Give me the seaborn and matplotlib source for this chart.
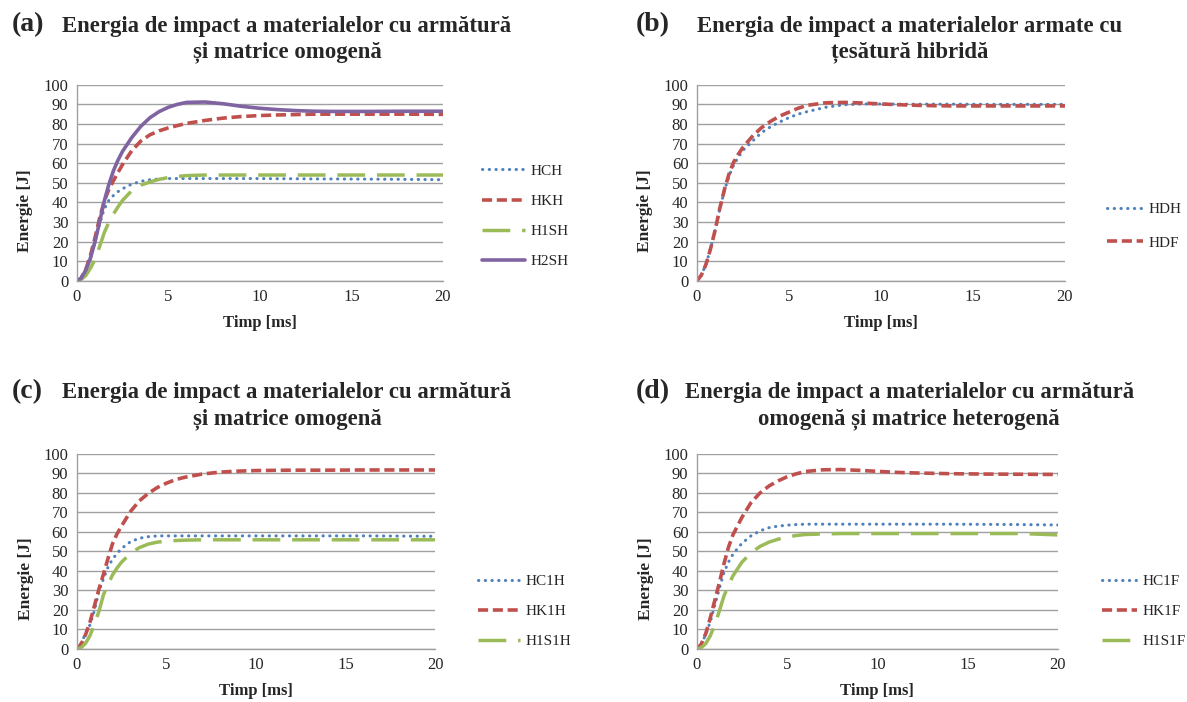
import numpy as np
import pandas as pd
import seaborn as sns
import matplotlib
matplotlib.use("Agg")
import matplotlib.pyplot as plt

# time axis [ms], shared by all series
t_ms = [0, 0.25, 0.5, 0.75, 1, 1.25, 1.5, 1.75, 2, 2.25, 2.5, 3, 3.5, 4, 4.5,
        5, 5.5, 6, 7, 8, 9, 10, 11, 12, 13, 14, 16, 18, 20]

# (a)
HCH = [0, 2, 6, 12, 20, 29, 36.5, 41, 43.5, 45.5, 47, 49.3, 50.8, 51.6, 52,
       52.2, 52.2, 52.2, 52.2, 52.2, 52.2, 52.2, 52.1, 52.1, 52, 52, 51.9, 51.8, 51.6]
HKH = [0, 1.5, 6, 13, 22, 32, 40.5, 46.5, 51, 55.2, 59.3, 66.3, 71.3, 74.5, 76.5,
       78, 79.2, 80.3, 81.8, 83, 83.8, 84.3, 84.6, 84.8, 85, 85, 85, 85, 84.9]
H1SH = [0, 0.8, 2.8, 6.5, 11, 17.5, 24.5, 29.8, 34, 37.7, 41, 46, 48.8, 50.5, 51.8,
        52.7, 53.3, 53.7, 54, 54, 54, 54, 54, 54, 54, 54, 54, 54, 54]
H2SH = [0, 1.5, 5.5, 11.5, 20, 30, 40.5, 49, 56, 61.5, 66, 73, 78.8, 83.2, 86.3,
        88.5, 90, 91, 91.2, 90.3, 89, 88, 87.3, 86.8, 86.5, 86.4, 86.4, 86.5, 86.5]

# (b)
HDH = [0, 3, 8.5, 16.5, 26, 36.5, 46, 53.5, 59, 63, 66.5, 71, 75.5, 78.5, 81,
       83.2, 85, 86.3, 88.5, 89.8, 90.2, 90.2, 90.1, 90.1, 90.1, 90.1, 90, 90, 90]
HDF = [0, 3, 8.5, 16.5, 26, 37, 46.5, 54.5, 60.5, 64.5, 68, 73.5, 78, 81.3, 84,
       86, 88, 89.5, 90.8, 91, 90.7, 90.2, 89.8, 89.5, 89.3, 89.2, 89.2, 89.2, 89.2]

# (c)
HC1H = [0, 3, 8, 12.5, 20, 30, 36, 42, 46, 49, 51.5, 55, 56.8, 57.6, 58,
        58, 58, 58, 58, 58, 58, 58, 58, 58, 58, 58, 58, 57.9, 57.8]
HK1H = [0, 2.5, 7.5, 14, 22.5, 31, 38.5, 46.5, 54, 59, 63, 70.5, 76, 79.8, 82.8,
        85, 86.8, 88, 89.7, 90.7, 91.2, 91.5, 91.6, 91.7, 91.7, 91.7, 91.8, 91.8, 91.8]
H1S1H = [0, 0.7, 3, 7, 13, 19.5, 28, 33, 38, 41.5, 44.5, 49, 52, 53.8, 54.8,
         55.3, 55.6, 55.8, 56, 56, 56, 56, 56, 56, 56, 56, 56, 56, 56]

# (d)
HC1F = [0, 2.5, 7.5, 14, 22.5, 31, 39, 44.5, 48.5, 51.5, 54.2, 58, 60.6, 62.2, 63,
        63.5, 63.8, 64, 64, 64, 64, 64, 64, 64, 64, 64, 63.9, 63.8, 63.6]
HK1F = [0, 2.5, 8, 16, 25, 34, 43.5, 52, 58.5, 63, 67.5, 75, 80, 83.6, 86.2,
        88.3, 89.8, 91, 91.9, 92, 91.6, 91.1, 90.6, 90.3, 90.1, 89.9, 89.7, 89.6, 89.5]
H1S1F = [0, 0.7, 2.8, 6.8, 12.5, 19.5, 27, 32.5, 37.5, 41, 44.5, 49.3, 52.6, 54.8, 56.3,
         57.4, 58.2, 58.7, 59, 59.2, 59.2, 59.2, 59.2, 59.2, 59.2, 59.2, 59.2, 59.2, 58.5]

BLUE, RED, GREEN, PURPLE = "#4F81BD", "#C0504D", "#9BBB59", "#8064A2"
STYLES = {
    "dot": dict(color=BLUE, lw=2.2, linestyle=(0, (0.1, 2.1)), dash_capstyle="round"),
    "dash": dict(color=RED, lw=2.6, linestyle=(0, (2.8, 1.3))),
    "long": dict(color=GREEN, lw=2.5, linestyle=(0, (8, 3.4))),
    "solid": dict(color=PURPLE, lw=2.6, linestyle="-"),
}

panels = [
    dict(letter="(a)", title="Energia de impact a materialelor cu armătură\nși matrice omogenă",
         rect=[0.0646, 0.5997, 0.3086, 0.2796], tx=0.2418, ty=0.944, lx=0.0232, ly=0.9644,
         series=[("HCH", HCH, "dot"), ("HKH", HKH, "dash"), ("H1SH", H1SH, "long"), ("H2SH", H2SH, "solid")],
         leg=(0.400, 0.692), ls=1.08, hl=2.8),
    dict(letter="(b)", title="Energia de impact a materialelor armate cu\nțesătură hibridă",
         rect=[0.587, 0.5997, 0.3102, 0.2796], tx=0.766, ty=0.944, lx=0.5501, ly=0.9644,
         series=[("HDH", HDH, "dot"), ("HDF", HDF, "dash")],
         leg=(0.926, 0.678), ls=1.3, hl=2.4),
    dict(letter="(c)", title="Energia de impact a materialelor cu armătură\nși matrice omogenă",
         rect=[0.0646, 0.0755, 0.3019, 0.2778], tx=0.2418, ty=0.4214, lx=0.0232, ly=0.4416,
         series=[("HC1H", HC1H, "dot"), ("HK1H", HK1H, "dash"), ("H1S1H", H1S1H, "long")],
         leg=(0.396, 0.129), ls=1.08, hl=2.8),
    dict(letter="(d)", title="Energia de impact a materialelor cu armătură\nomogenă și matrice heterogenă",
         rect=[0.587, 0.0755, 0.3043, 0.2778], tx=0.766, ty=0.4214, lx=0.5501, ly=0.4416,
         series=[("HC1F", HC1F, "dot"), ("HK1F", HK1F, "dash"), ("H1S1F", H1S1F, "long")],
         leg=(0.922, 0.129), ls=1.08, hl=2.3),
]

sns.set_style("white")
plt.rcParams["font.family"] = ["Liberation Serif", "DejaVu Serif"]

fig = plt.figure(figsize=(11.87, 7.02), dpi=100)

for p in panels:
    ax = fig.add_axes(p["rect"])
    for name, vals, st in p["series"]:
        df = pd.DataFrame({"t": t_ms, "E": vals})
        sns.lineplot(data=df, x="t", y="E", ax=ax, label=name, **STYLES[st])
    ax.set_xlim(0, 20)
    ax.set_ylim(0, 100)
    ax.set_xticks([0, 5, 10, 15, 20])
    ax.set_yticks(np.arange(0, 101, 10))
    ax.tick_params(length=0, labelsize=12, pad=6)
    ax.yaxis.grid(True, color="#A0A0A0", lw=1.0)
    ax.xaxis.grid(False)
    ax.set_axisbelow(True)
    for s in ["top", "right"]:
        ax.spines[s].set_visible(False)
    for s in ["left", "bottom"]:
        ax.spines[s].set_color("#A0A0A0")
        ax.spines[s].set_linewidth(1.0)
    ax.set_xlabel("Timp [ms]", fontsize=12, fontweight="bold", labelpad=7)
    ax.set_ylabel("Energie [J]", fontsize=12.5, fontweight="bold")
    ax.yaxis.set_label_coords(-0.118, 0.36)
    ax.legend(loc="center left", bbox_to_anchor=p["leg"], bbox_transform=fig.transFigure,
              frameon=False, fontsize=11, handlelength=p["hl"], handletextpad=0.35,
              labelspacing=p["ls"], borderpad=0)
    fig.text(p["tx"], p["ty"], p["title"], ha="center", va="center", ma="center",
             fontsize=16.4, fontweight="bold", linespacing=1.3)
    fig.text(p["lx"], p["ly"], p["letter"], ha="center", va="center",
             fontsize=20, fontweight="bold")

fig.savefig("out.png", dpi=100)
